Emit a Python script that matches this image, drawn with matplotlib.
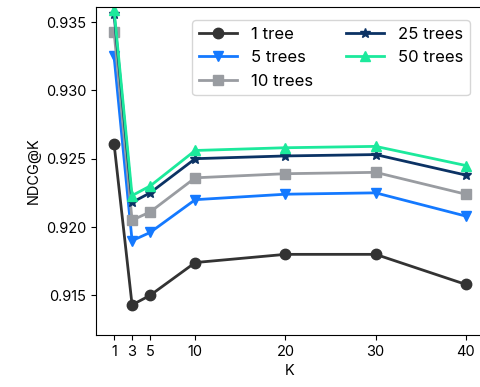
import matplotlib
matplotlib.use("Agg")
import matplotlib.pyplot as plt

plt.rcParams['font.family'] = ['Inter', 'DejaVu Sans']

K = [1, 3, 5, 10, 20, 30, 40]
labels = ["1 tree", "5 trees", "10 trees", "25 trees", "50 trees"]
tree1 = [0.9261, 0.9143, 0.9150, 0.9174, 0.9180, 0.9180, 0.9158]
tree5 = [0.9325, 0.9190, 0.9196, 0.9220, 0.9224, 0.9225, 0.9208]
tree10 = [0.9343, 0.9205, 0.9211, 0.9236, 0.9239, 0.9240, 0.9224]
tree25 = [0.9356, 0.9218, 0.9225, 0.9250, 0.9252, 0.9253, 0.9238]
tree50 = [0.9359, 0.9223, 0.9230, 0.9256, 0.9258, 0.9259, 0.9245]
series = [tree1, tree5, tree10, tree25, tree50]
colors = ["#333333", "#1479ff", "#999ca1", "#0b3264", "#1ce99c"]
markers = ["o", "v", "s", "*", "^"]

fig = plt.figure(figsize=(4.8, 3.87), dpi=100)
ax = fig.add_axes([0.2, 0.1344, 0.808, 0.8476])
for vals, lab, c, m in zip(series, labels, colors, markers):
    ax.plot(K, vals, color=c, marker=m, markersize=7.5, linewidth=2, label=lab)

ax.set_xlim(-1, 42)
ax.set_ylim(0.9121, 0.9361)
ax.set_xticks(K)
ax.set_yticks([0.915, 0.920, 0.925, 0.930, 0.935])
ax.set_xlabel("K", fontsize=10.5)
ax.set_ylabel("NDCG@K", fontsize=10.5)
ax.tick_params(labelsize=10.5)
ax.legend(ncol=2, loc="upper right", fontsize=12, handlelength=2.3,
          bbox_to_anchor=(0.985, 0.985))
fig.savefig("out.png", dpi=100)
